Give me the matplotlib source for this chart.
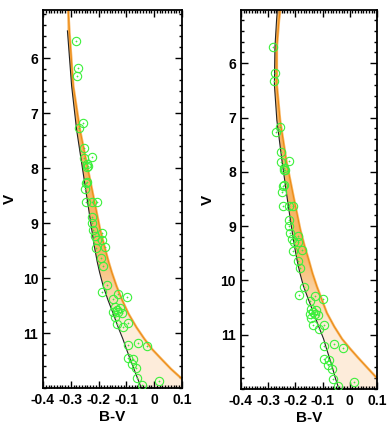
import numpy as np
import matplotlib
matplotlib.use("Agg")
import matplotlib.pyplot as plt
from matplotlib.ticker import MultipleLocator
from matplotlib.colors import to_rgb

plt.rcParams['font.family'] = ['Liberation Sans', 'DejaVu Sans']

# observed stars (B-V, V)
star_bv = [-0.281, -0.275, -0.277, -0.257, -0.270, -0.251, -0.251, -0.225, -0.241, -0.237,
           -0.243, -0.245, -0.241, -0.249, -0.245, -0.223, -0.207, -0.223, -0.225, -0.219,
           -0.189, -0.213, -0.205, -0.189, -0.177, -0.209, -0.192, -0.183, -0.169, -0.187,
           -0.147, -0.129, -0.099, -0.141, -0.135, -0.123, -0.147, -0.129, -0.141, -0.117,
           -0.135, -0.113, -0.093, -0.093, -0.057, -0.025, -0.093, -0.075, -0.081, -0.065,
           -0.063, 0.017, -0.043]
star_v = [5.69, 6.18, 6.32, 7.17, 7.27, 7.63, 7.81, 7.80, 7.92, 7.96,
          7.97, 8.26, 8.25, 8.38, 8.62, 8.62, 8.62, 8.88, 9.00, 9.12,
          9.18, 9.24, 9.30, 9.30, 9.44, 9.45, 9.64, 9.78, 10.12, 10.26,
          10.38, 10.29, 10.35, 10.53, 10.58, 10.55, 10.61, 10.62, 10.70, 10.64,
          10.83, 10.89, 10.82, 11.21, 11.18, 11.24, 11.45, 11.47, 11.56, 11.64,
          11.82, 11.88, 11.94]

# left panel model band edges (blue and red side)
left_v = [5.12, 5.5, 6.5, 7.3, 7.9, 8.5, 9.1, 9.4, 9.7, 9.9, 10.15, 10.4, 10.65, 10.9,
          11.1, 11.3, 11.45, 11.65, 11.82, 12.0]
left_blue = [-0.311, -0.312, -0.297, -0.279, -0.261, -0.243, -0.225, -0.216, -0.205, -0.196,
             -0.183, -0.166, -0.147, -0.129, -0.113, -0.099, -0.088, -0.073, -0.060, -0.046]
left_red = [-0.309, -0.305, -0.291, -0.267, -0.243, -0.219, -0.195, -0.180, -0.164, -0.152,
            -0.135, -0.115, -0.092, -0.063, -0.036, -0.006, 0.022, 0.060, 0.097, 0.137]

# right panel model band edges
right_v = [5.0, 5.2, 5.7, 6.4, 7.05, 7.8, 8.45, 9.06, 9.35, 9.62, 9.87, 10.11, 10.35, 10.6,
           10.85, 11.08, 11.25, 11.42, 11.6, 11.8, 12.0]
right_blue = [-0.266, -0.269, -0.275, -0.277, -0.268, -0.249, -0.231, -0.213, -0.204, -0.194,
              -0.183, -0.170, -0.152, -0.133, -0.114, -0.096, -0.086, -0.075, -0.064, -0.053,
              -0.040]
right_red = [-0.255, -0.260, -0.268, -0.268, -0.256, -0.233, -0.207, -0.182, -0.167, -0.151,
             -0.137, -0.121, -0.103, -0.084, -0.057, -0.028, 0.000, 0.030, 0.063, 0.100, 0.140]

fig = plt.figure(figsize=(3.88, 4.41), dpi=100)
ax1 = fig.add_axes([0.1108, 0.1202, 0.358, 0.857])
ax2 = fig.add_axes([0.621, 0.118, 0.3505, 0.859])

panels = [(ax1, left_v, left_blue, left_red, 5.12, 1),
          (ax2, right_v, right_blue, right_red, 5.02, 0)]

# vertical shading of the model band: strong where narrow, pale below
vv = np.linspace(5.0, 12.0, 300)[:, None]
shade = np.zeros((300, 2, 4))
shade[..., :3] = to_rgb('#f6a13a')
shade[..., 3] = np.clip(0.75 - (vv - 9.5) * 0.5, 0.08, 0.75)

for ax, v, blue, red, vtop, start in panels:
    band = ax.fill_betweenx(v, blue, red, color='#fef3e8', lw=0, zorder=1)
    im = ax.imshow(shade, extent=(-0.4, 0.1, 12.0, 5.0), aspect='auto',
                   interpolation='bilinear', zorder=1.5)
    im.set_clip_path(band.get_paths()[0], transform=ax.transData)
    ax.plot(red, v, color='#f7a540', lw=1.8, alpha=0.8, zorder=2)
    ax.plot(red, v, color='#e8850a', lw=0.6, zorder=2)
    ax.plot(blue[start:], v[start:], color='#222222', lw=0.8, zorder=2)
    ax.plot(star_bv, star_v, 'o', ms=6, mfc='none', mec='#3cf03c', mew=0.8, zorder=3)
    ax.plot(star_bv, star_v, '+', ms=2, color='#3cf03c', mew=0.5, zorder=3)

    ax.set_xlim(-0.4, 0.1)
    ax.set_ylim(12.0, vtop)
    ax.xaxis.set_minor_locator(MultipleLocator(0.01))
    ax.yaxis.set_minor_locator(MultipleLocator(0.2))
    ax.set_xticks([-0.4, -0.3, -0.2, -0.1, 0, 0.1])
    ax.set_xticklabels(['-0.4', '-0.3', '-0.2', '-0.1', '0', '0.1'])
    ax.set_yticks([6, 7, 8, 9, 10, 11])
    ax.tick_params(which='both', direction='in', top=True, right=True, width=1.0,
                   labelsize=10)
    ax.tick_params(which='major', length=5)
    ax.tick_params(which='minor', length=2.5)
    for lab in ax.get_xticklabels() + ax.get_yticklabels():
        lab.set_fontweight('bold')
    for s in ax.spines.values():
        s.set_linewidth(1.3)
    ax.set_xlabel('B-V', fontsize=11, fontweight='bold', labelpad=2)
    ax.set_ylabel('V', fontsize=11, fontweight='bold')
    ax.yaxis.set_label_coords(-0.19, 0.5)

fig.savefig('out.png', dpi=100)
